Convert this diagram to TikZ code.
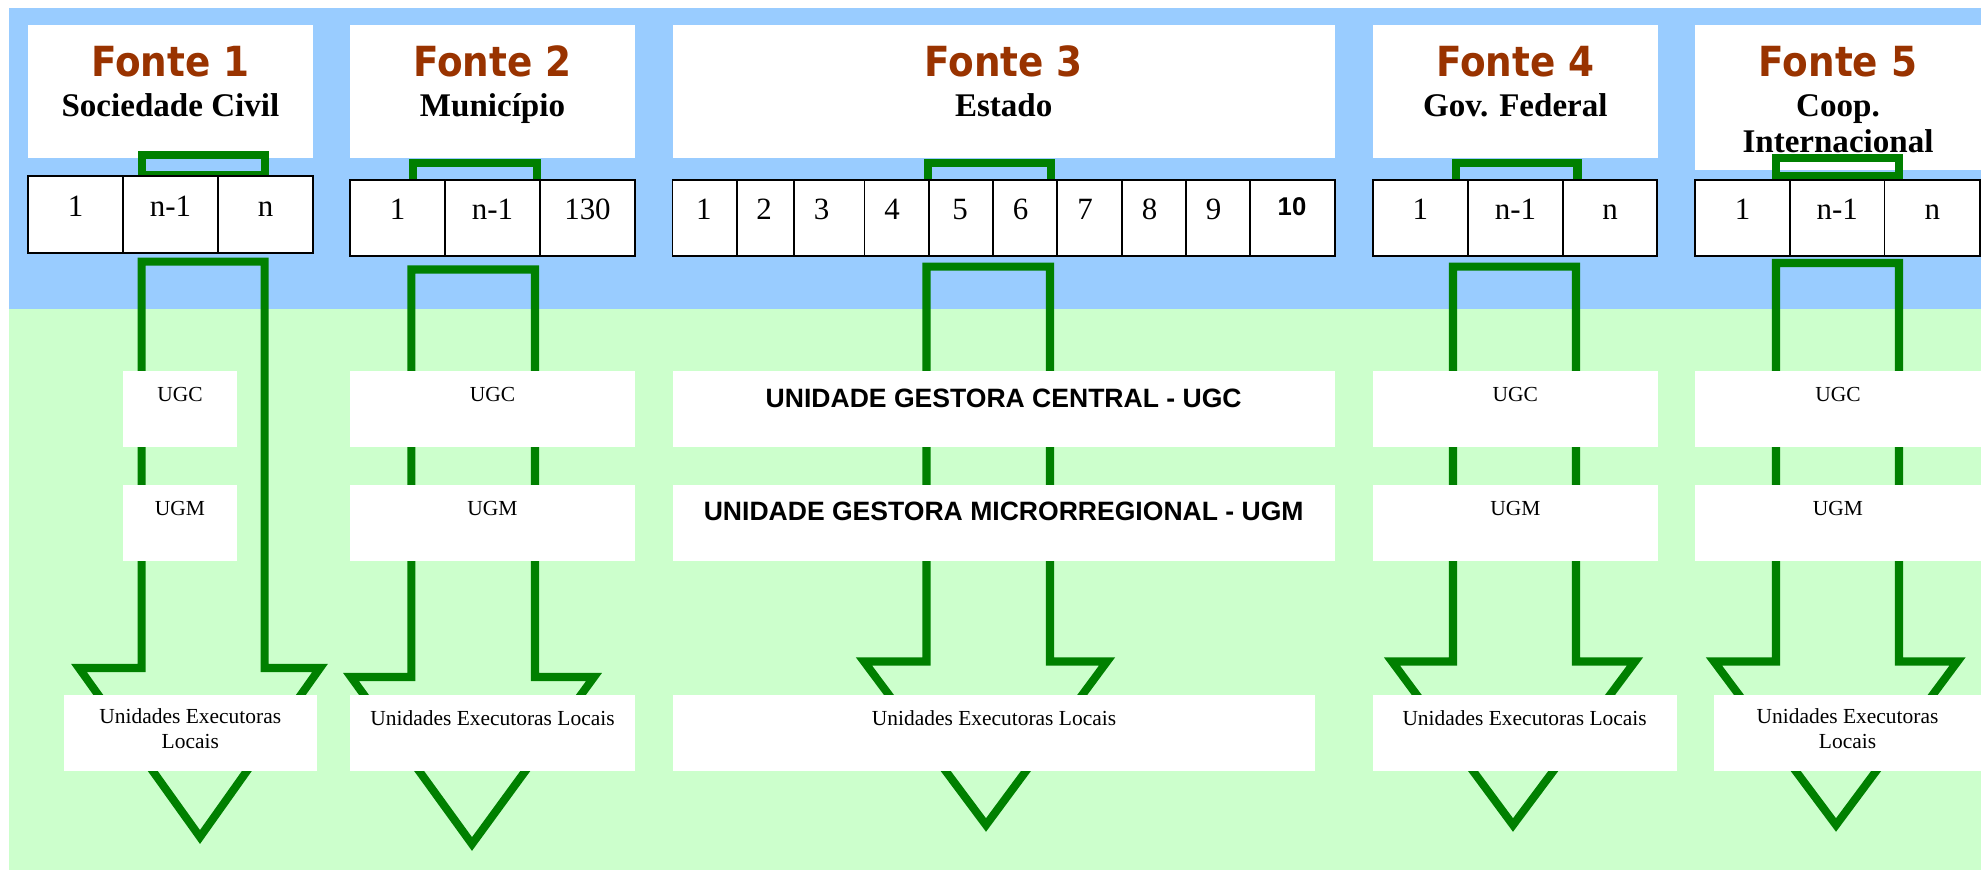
\documentclass[tikz,border=0pt]{standalone}
\usepackage{fontspec}
\setmainfont{Liberation Serif}
\setsansfont{Liberation Sans}
\newfontfamily\titlefont[FakeStretch = 0.9]{DejaVu Sans}

\definecolor{skyblue}{HTML}{99CCFF}
\definecolor{palegreen}{HTML}{CCFFCC}
\definecolor{flowgreen}{HTML}{008000}
\definecolor{rust}{HTML}{993300}

\begin{document}
\begin{tikzpicture}[x = 0.01cm, y = -0.01cm,
	panel/.style = {fill = white},
	cellrow/.style = {fill = white, draw = black, line width = 0.55pt},
	flow/.style = {draw = flowgreen, line width = 2.3pt},
	title/.style = {anchor = base, inner sep = 0pt, text = rust,
		font = \fontsize{11.8}{14}\selectfont\titlefont\bfseries},
	source/.style = {anchor = base, inner sep = 0pt, align = center,
		font = \fontsize{9.4}{10.16}\selectfont\bfseries},
	num/.style = {anchor = base, inner sep = 0pt, font = \fontsize{8.8}{10}\selectfont},
	unit/.style = {anchor = base, inner sep = 0pt, align = center,
		font = \fontsize{6.1}{7.1}\selectfont},
	bigunit/.style = {anchor = base, inner sep = 0pt,
		font = \fontsize{7.55}{9}\selectfont\sffamily\bfseries}]

	\useasboundingbox (0, 0) rectangle (1981, 870);

	% Background bands

	\fill [skyblue] (9, 8) rectangle (1981, 309);
	\fill [palegreen] (9, 309) rectangle (1981, 870);

	% Source headers

	\fill [panel] (28, 25) rectangle (312.7, 157.7);
	\fill [panel] (350, 25) rectangle (635, 157.7);
	\fill [panel] (672.5, 25) rectangle (1335, 157.7);
	\fill [panel] (1372.7, 25) rectangle (1658, 157.7);
	\fill [panel] (1695, 25) rectangle (1981, 170);

	% Upper part of the flows

	\begin{scope}[flow]

		\draw (141.7, 155) rectangle (264.7, 175.5);
		\draw (413, 163) rectangle (537, 200);
		\draw (928, 163) rectangle (1050.6, 200);
		\draw (1456, 163) rectangle (1577.5, 200);
		\draw (1776, 158) rectangle (1899, 176);

	\end{scope}

	% Rows of sources

	\draw [cellrow] (28, 176) rectangle (313, 253);
	\foreach \x in {123, 218}
		\draw [cellrow] (\x, 176) -- (\x, 253);

	\draw [cellrow] (350, 180) rectangle (635, 256);
	\foreach \x in {445, 540}
		\draw [cellrow] (\x, 180) -- (\x, 256);

	\draw [cellrow] (672.5, 180) rectangle (1335, 256);
	\foreach \x in {736.8, 793.9, 864.5, 929.2, 993, 1056.9, 1121.6, 1185.9, 1250.2}
		\draw [cellrow] (\x, 180) -- (\x, 256);

	\draw [cellrow] (1372.7, 180) rectangle (1657, 256);
	\foreach \x in {1468, 1563}
		\draw [cellrow] (\x, 180) -- (\x, 256);

	\draw [cellrow] (1695, 180) rectangle (1980, 256);
	\foreach \x in {1790, 1884.5}
		\draw [cellrow] (\x, 180) -- (\x, 256);

	% Lower part of the flows (big arrows)

	\begin{scope}[flow]

		\draw (141.7, 261.6) -- (264.7, 261.6) -- (264.7, 668) -- (320, 668)
			-- (200, 837) -- (79, 668) -- (141.7, 668) -- cycle;
		\draw (411.4, 269.5) -- (535, 269.5) -- (535, 677) -- (594, 677)
			-- (472, 844) -- (351, 677) -- (411.4, 677) -- cycle;
		\draw (926.5, 266.7) -- (1050, 266.7) -- (1050, 661.5) -- (1107, 661.5)
			-- (986, 825) -- (864, 661.5) -- (926.5, 661.5) -- cycle;
		\draw (1453, 266.7) -- (1576, 266.7) -- (1576, 661.5) -- (1635, 661.5)
			-- (1513, 825) -- (1392, 661.5) -- (1453, 661.5) -- cycle;
		\draw (1776, 263) -- (1899, 263) -- (1899, 661.5) -- (1957.5, 661.5)
			-- (1836, 825) -- (1714, 661.5) -- (1776, 661.5) -- cycle;

	\end{scope}

	% Management and executing units

	\foreach \a/\b in {123/237, 350/635, 672.5/1335, 1372.7/1658, 1695/1981}
	{
		\fill [panel] (\a, 371) rectangle (\b, 447);
		\fill [panel] (\a, 485) rectangle (\b, 561);
	}
	\foreach \a/\b in {64/316.5, 350/635, 672.5/1315, 1372.7/1676.5, 1714/1981}
		\fill [panel] (\a, 694.6) rectangle (\b, 770.7);

	% Header texts

	\node [title] (fonte1) at (170.4, 77) {Fonte 1};
	\node [title] (fonte2) at (492.5, 77) {Fonte 2};
	\node [title] (fonte3) at (1003.7, 77) {Fonte 3};
	\node [title] (fonte4) at (1515.3, 77) {Fonte 4};
	\node [title] (fonte5) at (1838, 77) {Fonte 5};

	\node [source] (civil) at (170.4, 117) {Sociedade Civil};
	\node [source] (municipio) at (492.5, 117) {Município};
	\node [source] (estado) at (1003.7, 117) {Estado};
	\node [source] (federal) at (1515.3, 117) {Gov. Federal};
	% base of a two-line node is its last line
	\node [source] (coop) at (1838, 152.7) {Coop.\\Internacional};

	% Row numbers

	\foreach \x/\t [count = \i] in {75.5/1, 170.5/n-1, 265.5/n}
		\node [num] (civil\i) at (\x, 217) {\t};
	\foreach \x/\t [count = \i] in {397.5/1, 492.5/n-1, 587.5/130}
		\node [num] (municipio\i) at (\x, 220) {\t};
	\foreach \x/\t [count = \i] in {703.8/1, 764/2, 821.6/3, 892/4, 960/5, 1020.7/6, 1085/7, 1149.7/8, 1213.6/9}
		\node [num] (estado\i) at (\x, 220) {\t};
	\node [num, font = \fontsize{7.3}{9}\selectfont\sffamily\bfseries] (estado10) at (1292, 216) {10};
	\foreach \x/\t [count = \i] in {1420.4/1, 1515.5/n-1, 1610/n}
		\node [num] (federal\i) at (\x, 220) {\t};
	\foreach \x/\t [count = \i] in {1742.5/1, 1837.3/n-1, 1932.3/n}
		\node [num] (coop\i) at (\x, 220) {\t};

	% Unit texts

	\foreach \x/\n in {180/a, 492.5/b, 1515.3/d, 1838/e}
	{
		\node [unit] (ugc\n) at (\x, 401.4) {UGC};
		\node [unit] (ugm\n) at (\x, 515.4) {UGM};
	}
	\node [bigunit] (ugcc) at (1003.7, 407) {UNIDADE GESTORA CENTRAL - UGC};
	\node [bigunit] (ugmc) at (1003.7, 520) {UNIDADE GESTORA MICRORREGIONAL - UGM};

	\node [unit] (uela) at (190.3, 748) {Unidades Executoras\\Locais};
	\node [unit] (ueld) at (492.5, 725) {Unidades Executoras Locais};
	\node [unit] (uelc) at (994, 725) {Unidades Executoras Locais};
	\node [unit] (uelb) at (1524.6, 725) {Unidades Executoras Locais};
	\node [unit] (uele) at (1847.5, 748) {Unidades Executoras\\Locais};

\end{tikzpicture}
\end{document}
